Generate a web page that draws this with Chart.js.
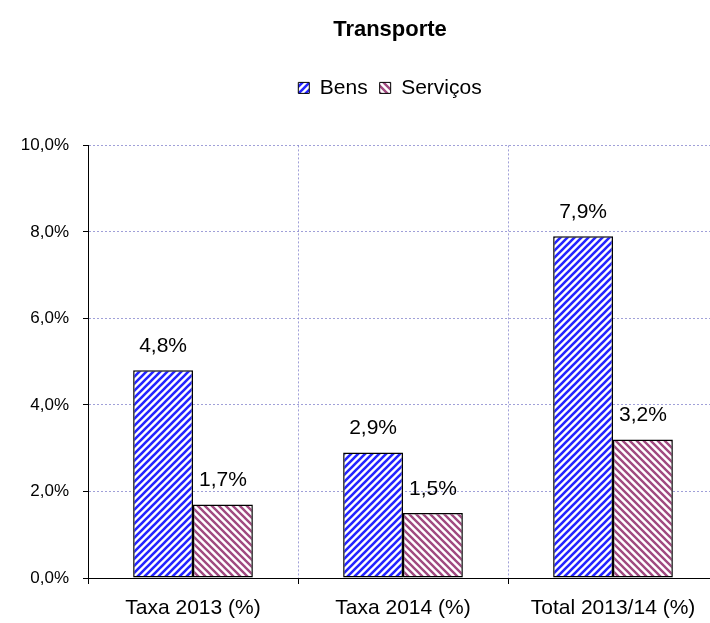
<!DOCTYPE html>
<html><head><meta charset="utf-8">
<script src="https://cdn.jsdelivr.net/npm/chart.js@4"></script>
<style>html,body{margin:0;padding:0;overflow:hidden;background:#fff}
#wrap{width:780px;height:623px}</style></head>
<body><div id="wrap"><canvas id="c" width="780" height="623"></canvas></div>
<script>
const categories = ['Taxa 2013 (%)', 'Taxa 2014 (%)', 'Total 2013/14 (%)'];
const bens = [4.8, 2.9, 7.9];
const servicos = [1.7, 1.5, 3.2];
const seriesNames = ['Bens', 'Serviços'];
const yMin = 0, yMax = 10, yStep = 2;

const FONT = "'Liberation Sans', Arial, sans-serif";
const GRID = 'rgba(120,120,200,0.7)';

function hatch(color, dir, lw) {
  const n = 7;
  const c = document.createElement('canvas');
  c.width = n; c.height = n;
  const g = c.getContext('2d');
  g.fillStyle = '#fff'; g.fillRect(0, 0, n, n);
  g.strokeStyle = color; g.lineWidth = lw; g.lineCap = 'square';
  g.beginPath();
  if (dir === '/') {
    g.moveTo(-1, n + 1); g.lineTo(n + 1, -1);
    g.moveTo(-1, 1); g.lineTo(1, -1);
    g.moveTo(n - 1, n + 1); g.lineTo(n + 1, n - 1);
  } else {
    g.moveTo(-1, -1); g.lineTo(n + 1, n + 1);
    g.moveTo(n - 1, -1); g.lineTo(n + 1, 1);
    g.moveTo(-1, n - 1); g.lineTo(1, n + 1);
  }
  g.stroke();
  return g.createPattern(c, 'repeat');
}
const ctx0 = document.getElementById('c').getContext('2d');
const patBens = hatch('#2424ff', '/', 2.6);
const patServ = hatch('#a04a80', '\\', 2.4);

const valueLabels = {
  id: 'valueLabels',
  afterDatasetsDraw(chart) {
    const ctx = chart.ctx;
    ctx.save();
    ctx.font = '21px ' + FONT;
    ctx.fillStyle = '#000';
    ctx.textAlign = 'center';
    ctx.textBaseline = 'middle';
    chart.data.datasets.forEach((ds, i) => {
      chart.getDatasetMeta(i).data.forEach((bar, j) => {
        const t = ds.data[j].toFixed(1).replace('.', ',') + '%';
        ctx.fillText(t, bar.x, bar.y - 24);
      });
    });
    ctx.restore();
  }
};

new Chart(ctx0, {
  type: 'bar',
  data: {
    labels: categories,
    datasets: [
      { label: seriesNames[0], data: bens, backgroundColor: patBens, borderColor: '#000', borderWidth: 1.5, borderSkipped: false },
      { label: seriesNames[1], data: servicos, backgroundColor: patServ, borderColor: '#000', borderWidth: 1.5, borderSkipped: false }
    ]
  },
  options: {
    responsive: false,
    animation: false,
    devicePixelRatio: 1,
    layout: { padding: 0 },
    datasets: { bar: { categoryPercentage: 0.57, barPercentage: 1 } },
    plugins: {
      title: { display: true, text: 'Transporte', color: '#000', font: { family: FONT, size: 22, weight: 'bold' }, padding: { top: 17, bottom: 22 } },
      subtitle: { display: true, text: '', weight: 500, font: { size: 10, lineHeight: 1 }, padding: { top: 27, bottom: 0 } },
      legend: {
        display: true,
        labels: {
          color: '#000', font: { family: FONT, size: 21 }, boxWidth: 11, boxHeight: 11, padding: 12,
          generateLabels(chart) {
            return chart.data.datasets.map((ds, i) => ({ text: ds.label, fillStyle: ds.backgroundColor, strokeStyle: '#000', lineWidth: 1, datasetIndex: i, hidden: false }));
          }
        }
      },
      tooltip: { enabled: false }
    },
    scales: {
      x: {
        offset: true,
        grid: { offset: true, color: GRID, lineWidth: 1, tickColor: '#000', tickLength: 6, drawTicks: true },
        border: { display: true, color: '#000', width: 1, dash: [2, 2] },
        ticks: { color: '#000', font: { family: FONT, size: 21 }, padding: 12, maxRotation: 0 },
        afterFit(s) { s.height = 45; }
      },
      y: {
        min: yMin, max: yMax,
        ticks: { stepSize: yStep, color: '#000', font: { family: FONT, size: 17 }, padding: 14,
          callback: v => v.toFixed(1).replace('.', ',') + '%' },
        grid: { color: GRID, lineWidth: 1, tickColor: '#000', tickLength: 5 },
        border: { display: true, color: '#000', width: 1, dash: [2, 2] },
        afterFit(s) { s.width = 88; }
      },
      y2: {
        position: 'right', display: true,
        grid: { drawOnChartArea: false, drawTicks: false },
        border: { display: false },
        ticks: { display: false },
        afterFit(s) { s.width = 62; }
      }
    }
  },
  plugins: [valueLabels]
});
</script></body></html>
